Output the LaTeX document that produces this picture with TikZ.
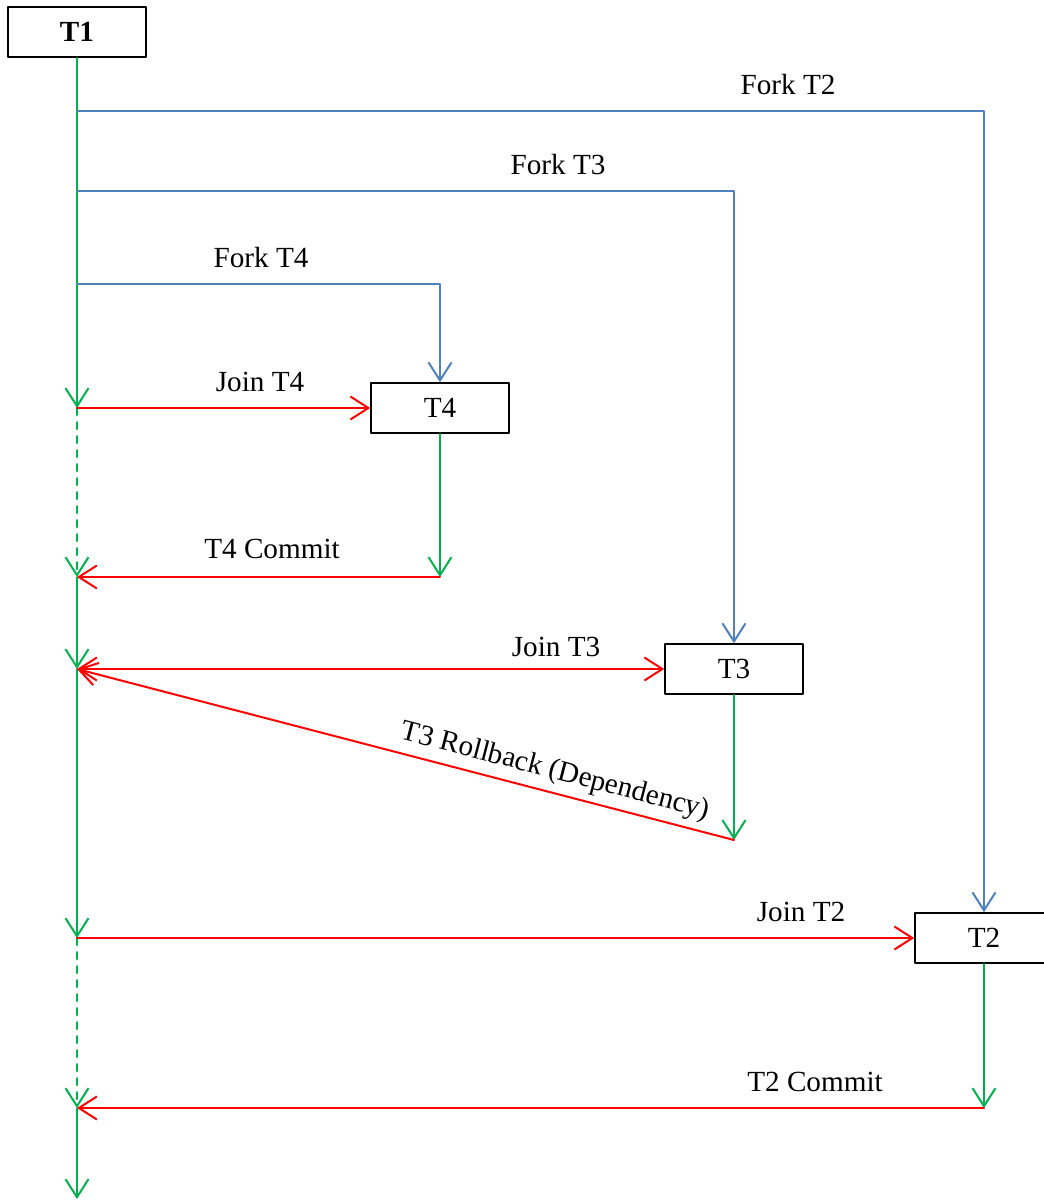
\documentclass[tikz,border=0pt]{standalone}
\usepackage{fontspec}
\setmainfont{Liberation Serif}
\usepackage{xcolor}
\usetikzlibrary{arrows.meta}
\definecolor{lifegreen}{RGB}{0,176,80}
\definecolor{forkblue}{RGB}{79,129,189}
\definecolor{msgred}{RGB}{255,0,0}
\tikzset{
  every picture/.style={font=\fontsize{14.6}{17}\selectfont, line join=round, line cap=round, >={Straight Barb[length=9pt,width=11.5pt]}},
  txn/.style={draw, line width=0.75pt, minimum width=69pt, minimum height=25pt, inner sep=0pt},
  life/.style={lifegreen, line width=1pt, ->},
  fork/.style={forkblue, line width=1pt, ->},
  msg/.style={msgred, line width=1pt, ->},
  idle/.style={dash pattern=on 3.5pt off 3.5pt},
}

\begin{document}
\begin{tikzpicture}[x=0.5pt,y=0.5pt]
\useasboundingbox (0,0) rectangle (1044,-1201);
\node[txn] (t1) at (77,-32) {\textbf{T1}};
\node[txn] (t4) at (440,-408) {T4};
\node[txn] (t3) at (734,-669) {T3};
\node[txn] (t2) at (984,-938) {T2};
% points on the T1 line
\coordinate (f2) at (77,-111);
\coordinate (f3) at (77,-191);
\coordinate (f4) at (77,-284);
\coordinate (j4) at (77,-408);
\coordinate (c4) at (77,-577);
\coordinate (j3) at (77,-669);
\coordinate (j2) at (77,-938);
\coordinate (c2) at (77,-1108);
\coordinate (e1) at (77,-1199);
% ends of the child lines
\coordinate (e4) at (440,-577);
\coordinate (e3) at (734,-840);
\coordinate (e2) at (984,-1108);
% T1
\draw[life] (t1) -- (j4);
\draw[life,idle] (j4) -- (c4);
\draw[life] (c4) -- (j3);
\draw[life] (j3) -- (j2);
\draw[life,idle] (j2) -- (c2);
\draw[life] (c2) -- (e1);
% forks
\draw[fork] (f2) -| (t2);
\draw[fork] (f3) -| (t3);
\draw[fork] (f4) -| (t4);
\node (lf2) at (788,-85) {Fork T2};
\node (lf3) at (558,-165) {Fork T3};
\node (lf4) at (261,-258) {Fork T4};
% T4
\draw[msg] (j4) -- (t4);
\node (lj4) at (260,-382) {Join T4};
\draw[life] (t4) -- (e4);
\draw[msg] (e4) -- (c4);
\node (lc4) at (272,-549) {T4 Commit};
% T3
\draw[msg,<->] (j3) -- (t3);
\node (lj3) at (556,-647) {Join T3};
\draw[life] (t3) -- (e3);
\draw[msg,<-] (j3) -- (e3) node[sloped,above,pos=0.72,text=black] (lrb) {T3 Rollback (Dependency)};
% T2
\draw[msg] (j2) -- (t2);
\node (lj2) at (801,-912) {Join T2};
\draw[life] (t2) -- (e2);
\draw[msg] (e2) -- (c2);
\node (lc2) at (815,-1082) {T2 Commit};
\end{tikzpicture}
\end{document}
